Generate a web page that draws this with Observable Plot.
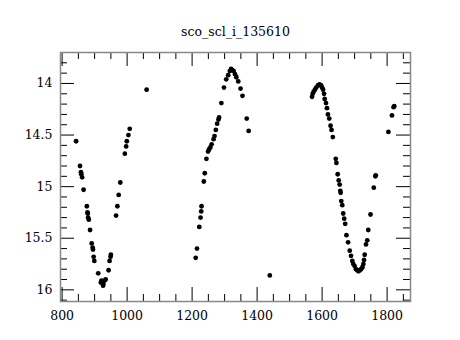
<!DOCTYPE html>
<html>
<head>
<meta charset="utf-8">
<script src="https://cdn.jsdelivr.net/npm/d3@7"></script>
<script src="https://cdn.jsdelivr.net/npm/@observablehq/plot@0.6"></script>
<style>
  body { margin: 0; background: #fff; }
  svg text { font-family: "DejaVu Serif", serif !important; }
</style>
</head>
<body>
<div id="chart"></div>
<script>
const title = "sco_scl_i_135610";

const jd = [
  843, 855, 858, 859, 861.5, 866, 876, 878, 879, 880, 882, 886, 891, 894, 895, 897, 899,
  911, 919, 921, 925, 926, 927, 930, 934, 943, 946, 949, 950,
  966, 970, 974, 979, 993, 997, 999, 1004, 1008, 1060,
  1211, 1215, 1222, 1226, 1228, 1229, 1236, 1239, 1244, 1249, 1252, 1256, 1260, 1266, 1269,
  1273, 1277, 1281, 1283, 1290, 1298, 1305, 1311, 1316, 1320, 1324, 1328, 1332, 1336, 1342,
  1349, 1355, 1368, 1374, 1439,
  1569, 1571, 1574, 1578, 1582, 1587, 1592, 1597, 1600, 1603, 1606, 1608, 1612, 1615, 1618,
  1622, 1626, 1629, 1633, 1642, 1644, 1648, 1651, 1654, 1656, 1657, 1659, 1662, 1665, 1668,
  1671, 1675, 1680, 1685, 1689, 1693, 1696, 1700, 1704, 1708, 1712, 1716, 1720, 1724, 1727,
  1729, 1731, 1735, 1739, 1742, 1749, 1759, 1764, 1765, 1804, 1815, 1820, 1822
];
const mag = [
  14.56, 14.80, 14.86, 14.88, 14.91, 15.03, 15.19, 15.25, 15.26, 15.30, 15.32, 15.42, 15.55, 15.59, 15.61, 15.68, 15.72,
  15.84, 15.93, 15.91, 15.92, 15.96, 15.94, 15.91, 15.90, 15.81, 15.72, 15.68, 15.66,
  15.28, 15.19, 15.08, 14.96, 14.68, 14.61, 14.56, 14.50, 14.44, 14.06,
  15.69, 15.60, 15.39, 15.30, 15.24, 15.19, 14.95, 14.87, 14.73, 14.66, 14.64, 14.62, 14.59, 14.54, 14.51,
  14.45, 14.39, 14.35, 14.33, 14.19, 14.04, 13.96, 13.92, 13.88, 13.86, 13.87, 13.88, 13.91, 13.94, 13.98,
  14.05, 14.12, 14.34, 14.46, 15.86,
  14.13, 14.10, 14.08, 14.06, 14.04, 14.02, 14.01, 14.02, 14.04, 14.06, 14.10, 14.15, 14.19, 14.24, 14.30,
  14.34, 14.41, 14.45, 14.52, 14.73, 14.77, 14.88, 14.94, 14.98, 15.04, 15.06, 15.14, 15.18, 15.26, 15.31,
  15.36, 15.47, 15.54, 15.62, 15.67, 15.72, 15.75, 15.77, 15.80, 15.81, 15.82, 15.81, 15.80, 15.78, 15.75,
  15.71, 15.66, 15.56, 15.52, 15.42, 15.27, 15.01, 14.90, 14.89, 14.47, 14.31, 14.23, 14.22
];

const xMajor = [800, 1000, 1200, 1400, 1600, 1800];
const xMinor = [850, 900, 950, 1050, 1100, 1150, 1250, 1300, 1350, 1450, 1500, 1550, 1650, 1700, 1750, 1850];
const yMajor = [14, 14.5, 15, 15.5, 16];
const yMinor = [13.7, 13.8, 13.9, 14.1, 14.2, 14.3, 14.4, 14.6, 14.7, 14.8, 14.9,
                15.1, 15.2, 15.3, 15.4, 15.6, 15.7, 15.8, 15.9, 16.1];
const xDomain = [795, 1872];
const yDomain = [13.70, 16.113];

const data = jd.map((x, i) => ({x, y: mag[i]}));

const W = 460, H = 340;
const mt = 52, mb = 39, ml = 60, mr = 50;
const fw = W - ml - mr, fh = H - mt - mb;
const majLen = 14, minLen = 7;

const chart = Plot.plot({
  width: W,
  height: H,
  marginTop: mt,
  marginBottom: mb,
  marginLeft: ml,
  marginRight: mr,
  style: {fontFamily: "'DejaVu Serif', serif", fontSize: "12.5px", color: "#000", background: "#fff"},
  x: {domain: xDomain},
  y: {domain: yDomain, reverse: true},
  marks: [
    Plot.text([title], {frameAnchor: "top", dy: -25, text: d => d, fontSize: 12.5, fill: "#000"}),
    // ticks (inward, all four sides)
    Plot.tickX(xMajor, {x: d => d, insetTop: fh - majLen, stroke: "#000"}),
    Plot.tickX(xMajor, {x: d => d, insetBottom: fh - majLen, stroke: "#000"}),
    Plot.tickX(xMinor, {x: d => d, insetTop: fh - minLen, stroke: "#000"}),
    Plot.tickX(xMinor, {x: d => d, insetBottom: fh - minLen, stroke: "#000"}),
    Plot.tickY(yMajor, {y: d => d, insetRight: fw - majLen, stroke: "#000"}),
    Plot.tickY(yMajor, {y: d => d, insetLeft: fw - majLen, stroke: "#000"}),
    Plot.tickY(yMinor, {y: d => d, insetRight: fw - minLen, stroke: "#000"}),
    Plot.tickY(yMinor, {y: d => d, insetLeft: fw - minLen, stroke: "#000"}),
    Plot.frame({stroke: "#888", strokeWidth: 1.5}),
    Plot.axisX(xMajor, {tickSize: 0, tickPadding: 10, label: null, fontSize: 12.5, fill: "#000", tickFormat: d => String(d)}),
    Plot.axisY(yMajor, {tickSize: 0, tickPadding: 8, label: null, fontSize: 12.5, fill: "#000", tickFormat: d => String(d)}),
    Plot.dot(data, {x: "x", y: "y", r: 2.4, fill: "#000", stroke: null})
  ]
});

document.getElementById("chart").appendChild(chart);
</script>
</body>
</html>
